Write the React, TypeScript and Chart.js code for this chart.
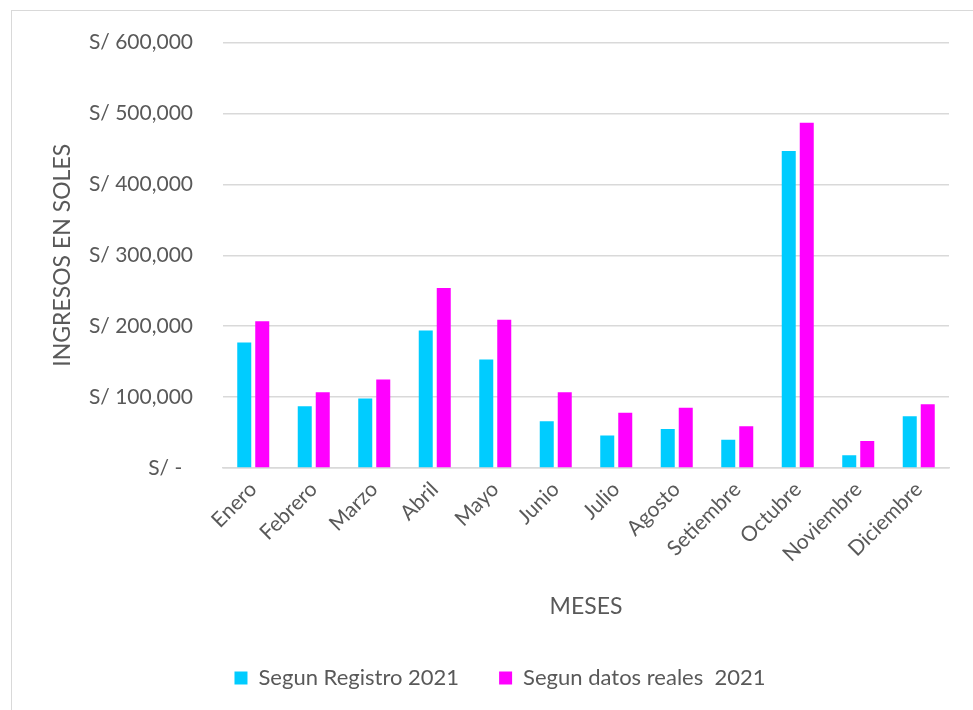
import React, { useEffect, useRef } from "react";
import { Chart, registerables } from "chart.js";

Chart.register(...registerables);

const months = [
  "Enero", "Febrero", "Marzo", "Abril", "Mayo", "Junio",
  "Julio", "Agosto", "Setiembre", "Octubre", "Noviembre", "Diciembre",
];
const segunRegistro = [177000, 87000, 98000, 194000, 153000, 66000, 46000, 55000, 40000, 447000, 18000, 73000];
const segunReales = [207000, 107000, 125000, 254000, 209000, 107000, 78000, 85000, 59000, 487000, 38000, 90000];
const seriesNames = ["Segun Registro 2021", "Segun datos reales  2021"];
const yTicks = [0, 100000, 200000, 300000, 400000, 500000, 600000];

const FONT = "Lato, 'Open Sans', sans-serif";
const TEXT = "#595959";
const GRID = "#D9D9D9";

export default function App() {
  const ref = useRef<HTMLCanvasElement | null>(null);

  useEffect(() => {
    if (!ref.current) return;
    const chart = new Chart(ref.current, {
      type: "bar",
      data: {
        labels: months,
        datasets: [
          {
            label: seriesNames[0],
            data: segunRegistro,
            backgroundColor: "#00CCFF",
            categoryPercentage: 0.595,
            barPercentage: 0.778,
          },
          {
            label: seriesNames[1],
            data: segunReales,
            backgroundColor: "#FF00FF",
            categoryPercentage: 0.595,
            barPercentage: 0.778,
          },
        ],
      },
      options: {
        responsive: false,
        animation: false,
        layout: { padding: { left: 51, right: 24, top: 38, bottom: 11 } },
        plugins: {
          legend: {
            position: "bottom",
            labels: {
              boxWidth: 13,
              boxHeight: 13,
              padding: 40,
              color: TEXT,
              font: { family: FONT, size: 22 },
            },
          },
          tooltip: { enabled: false },
        },
        scales: {
          x: {
            grid: { display: false, drawTicks: false },
            border: { display: true, color: GRID, width: 1.5 },
            ticks: {
              color: TEXT,
              font: { family: FONT, size: 21 },
              minRotation: 45,
              maxRotation: 45,
              padding: 9,
              autoSkip: false,
            },
            title: {
              display: true,
              text: "MESES",
              color: TEXT,
              font: { family: FONT, size: 23 },
              padding: { top: 0, bottom: 7 },
            },
            afterFit: (scale: any) => {
              scale.height = 159;
            },
          },
          y: {
            min: 0,
            max: 600000,
            afterBuildTicks: (scale: any) => {
              scale.ticks = yTicks.map((v) => ({ value: v }));
            },
            grid: { color: GRID, lineWidth: 1.5, drawTicks: false },
            border: { display: false },
            ticks: {
              color: TEXT,
              font: { family: FONT, size: 21 },
              padding: 30,
              callback: (v: any) =>
                Number(v) === 0 ? "S/ -  " : "S/ " + Number(v).toLocaleString("en-US"),
            },
            title: {
              display: true,
              text: "INGRESOS EN SOLES",
              color: TEXT,
              font: { family: FONT, size: 23, lineHeight: 1 },
              padding: { top: 0, bottom: 0 },
            },
            afterFit: (scale: any) => {
              scale.width = 172;
            },
          },
        },
      },
    });
    return () => chart.destroy();
  }, []);

  return (
    <div
      style={{
        position: "fixed",
        left: 0,
        top: 0,
        width: 973,
        height: 710,
        overflow: "hidden",
        background: "#ffffff",
      }}
    >
      <div
        style={{
          position: "absolute",
          left: 11,
          top: 10,
          width: 2000,
          height: 2000,
          borderLeft: "1.5px solid #D9D9D9",
          borderTop: "1.5px solid #D9D9D9",
        }}
      />
      <canvas
        ref={ref}
        width={973}
        height={710}
        style={{ position: "absolute", left: 0, top: 0 }}
      />
    </div>
  );
}
